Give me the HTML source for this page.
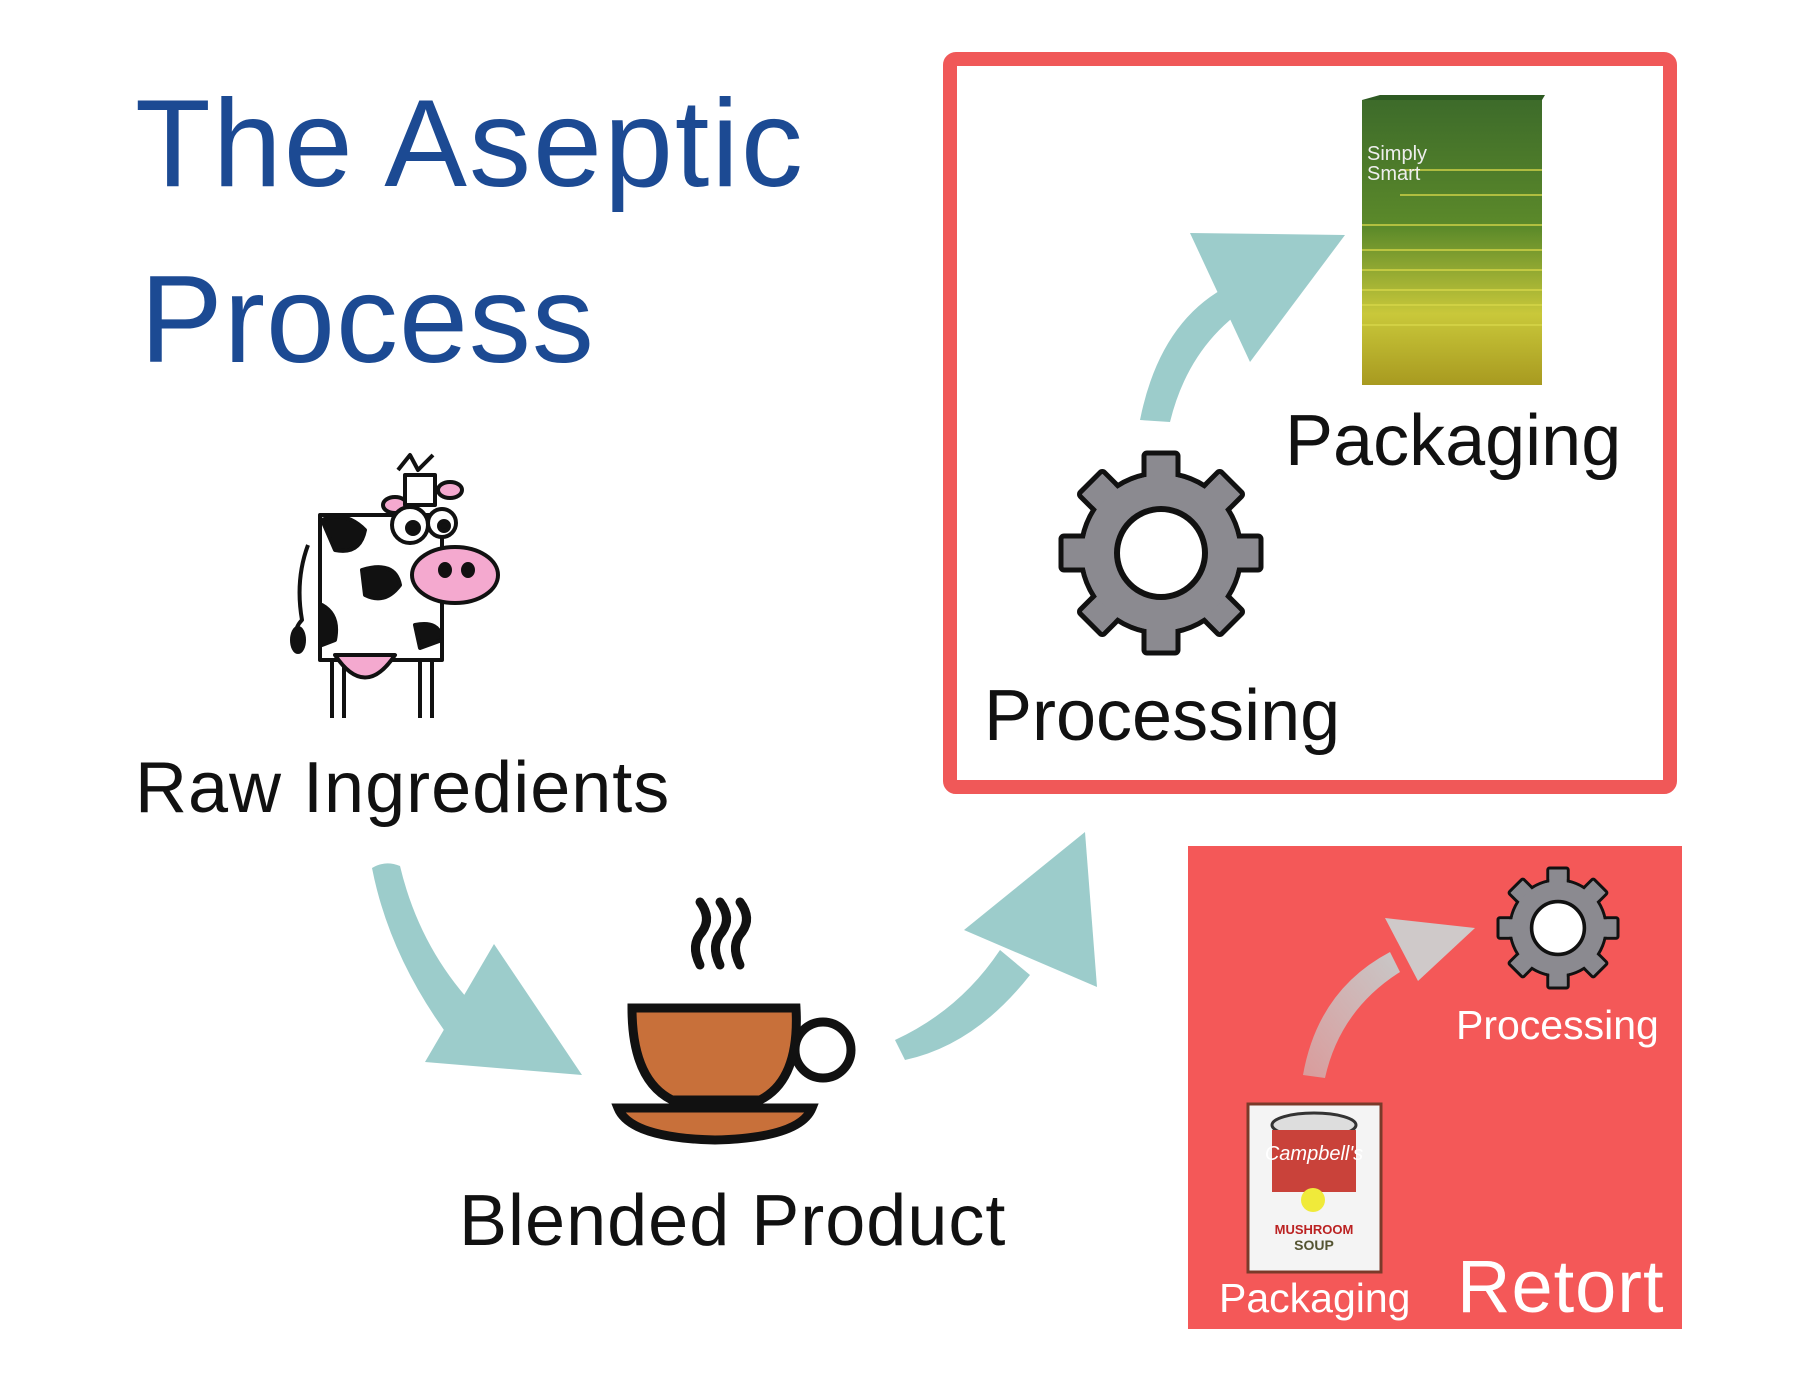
<!DOCTYPE html>
<html><head><meta charset="utf-8"><style>
html,body{margin:0;padding:0;background:#fff;}
svg{display:block;}
text{font-family:"Liberation Sans",sans-serif;}
</style></head><body>
<svg width="1800" height="1391" viewBox="0 0 1800 1391" xmlns="http://www.w3.org/2000/svg">
<defs>
<linearGradient id="carton" x1="0" y1="0" x2="0" y2="1">
<stop offset="0" stop-color="#3d6b2a"/><stop offset="0.45" stop-color="#5c8a2a"/><stop offset="0.75" stop-color="#c9c83a"/><stop offset="1" stop-color="#a89a20"/></linearGradient>
<linearGradient id="ga" x1="0" y1="1" x2="1" y2="0"><stop offset="0" stop-color="#c8c8c8" stop-opacity="0.6"/><stop offset="1" stop-color="#c8c8c8"/></linearGradient>
<g id="gear">
<g fill="#8b8a90" stroke="#111" stroke-width="5">
<rect x="-17" y="-100" width="34" height="200" rx="3"/>
<rect x="-17" y="-100" width="34" height="200" rx="3" transform="rotate(45)"/>
<rect x="-17" y="-100" width="34" height="200" rx="3" transform="rotate(90)"/>
<rect x="-17" y="-100" width="34" height="200" rx="3" transform="rotate(135)"/>
<circle r="80"/>
</g>
<g fill="#8b8a90">
<rect x="-14.5" y="-97" width="29" height="194"/>
<rect x="-14.5" y="-97" width="29" height="194" transform="rotate(45)"/>
<rect x="-14.5" y="-97" width="29" height="194" transform="rotate(90)"/>
<rect x="-14.5" y="-97" width="29" height="194" transform="rotate(135)"/>
<circle r="77.5"/>
</g>
<circle r="44" fill="#fff" stroke="#111" stroke-width="6"/>
</g>
</defs>

<!-- Title -->
<text x="135" y="186" font-size="124" fill="#1c4a93" letter-spacing="2">The Aseptic</text>
<text x="140" y="362" font-size="124" fill="#1c4a93" letter-spacing="1">Process</text>

<!-- Red outline box -->
<rect x="950" y="59" width="720" height="728" rx="6" fill="none" stroke="#f05858" stroke-width="14"/>

<!-- Carton -->
<g>
<rect x="1362" y="100" width="180" height="285" fill="url(#carton)"/>
<polygon points="1362,100 1380,95 1545,95 1542,100" fill="#2e5a22"/>
<g stroke="#d8d84a" stroke-width="2" opacity="0.7">
<line x1="1400" y1="170" x2="1542" y2="170"/><line x1="1400" y1="195" x2="1542" y2="195"/>
<line x1="1362" y1="225" x2="1542" y2="225"/><line x1="1362" y1="250" x2="1542" y2="250"/>
<line x1="1362" y1="270" x2="1542" y2="270"/><line x1="1362" y1="290" x2="1542" y2="290"/>
<line x1="1362" y1="305" x2="1542" y2="305"/><line x1="1362" y1="325" x2="1542" y2="325"/>
</g>
<text x="1367" y="160" font-size="20" fill="#eee" font-family="Liberation Serif,serif">Simply</text>
<text x="1367" y="180" font-size="20" fill="#eee" font-family="Liberation Serif,serif">Smart</text>
</g>

<!-- arrow in box -->
<path d="M1140,420 Q1160,320 1230,285 L1258,300 Q1190,340 1170,422 Z" fill="#9ccccb"/>
<polygon points="1190,233 1345,235 1250,362" fill="#9ccccb"/>

<!-- big gear -->
<use href="#gear" transform="translate(1161,553)"/>

<text x="1285" y="465" font-size="72" fill="#111">Packaging</text>
<text x="984" y="740" font-size="72" fill="#111">Processing</text>

<!-- Cow -->
<g stroke="#111" stroke-width="4" stroke-linejoin="round">
<line x1="332" y1="640" x2="332" y2="718"/><line x1="344" y1="640" x2="344" y2="718"/>
<line x1="420" y1="640" x2="420" y2="718"/><line x1="432" y1="640" x2="432" y2="718"/>
<path d="M308,545 Q295,580 302,620 Q292,630 298,645" fill="none"/>
<ellipse cx="298" cy="640" rx="6" ry="12" fill="#111"/>
<rect x="320" y="515" width="122" height="145" fill="#fff"/>
<path d="M335,655 Q365,700 395,655 Z" fill="#f4a9cf"/>
<path d="M322,520 Q345,510 365,530 Q360,555 335,550 Z" fill="#111"/>
<path d="M362,570 Q395,560 400,585 Q385,605 365,595 Z" fill="#111"/>
<path d="M322,605 Q340,615 335,640 L322,645 Z" fill="#111"/>
<path d="M415,625 Q440,620 442,640 L420,648 Z" fill="#111"/>
<path d="M398,470 L410,455 L418,470 L433,455" fill="none"/>
<ellipse cx="395" cy="505" rx="12" ry="8" fill="#f4a9cf"/>
<ellipse cx="450" cy="490" rx="12" ry="8" fill="#f4a9cf"/>
<rect x="405" y="475" width="30" height="30" fill="#fff"/>
<circle cx="410" cy="525" r="18" fill="#fff"/><circle cx="442" cy="523" r="14" fill="#fff"/>
<circle cx="413" cy="528" r="6" fill="#111"/><circle cx="444" cy="526" r="5" fill="#111"/>
<ellipse cx="455" cy="575" rx="43" ry="28" fill="#f4a9cf"/>
<ellipse cx="445" cy="570" rx="5" ry="6" fill="#111"/><ellipse cx="468" cy="570" rx="5" ry="6" fill="#111"/>
</g>

<text x="135" y="812" font-size="72" fill="#111" letter-spacing="1">Raw Ingredients</text>

<!-- arrow 1 -->
<path d="M372,868 Q385,860 400,866 Q420,950 478,1010 L455,1045 Q390,960 372,868 Z" fill="#9ccccb"/>
<polygon points="425,1062 582,1075 494,944" fill="#9ccccb"/>

<!-- arrow 2 -->
<path d="M895,1040 Q960,1010 1000,950 L1030,975 Q975,1045 905,1060 Z" fill="#9ccccb"/>
<polygon points="964,930 1085,832 1097,987" fill="#9ccccb"/>

<!-- Cup -->
<g stroke="#111" stroke-width="9" fill="none" stroke-linecap="round">
<path d="M700,965 Q690,945 702,932 Q712,918 700,902"/>
<path d="M720,965 Q710,945 722,932 Q732,918 720,902"/>
<path d="M740,965 Q730,945 742,932 Q752,918 740,902"/>
<circle cx="823" cy="1050" r="28"/>
</g>
<path d="M632,1008 L796,1008 Q800,1080 760,1100 L672,1100 Q632,1080 632,1008 Z" fill="#c8703a" stroke="#111" stroke-width="9"/>
<path d="M618,1108 L812,1108 Q800,1138 715,1140 Q630,1138 618,1108 Z" fill="#c8703a" stroke="#111" stroke-width="9"/>

<text x="459" y="1245" font-size="72" fill="#111" letter-spacing="1">Blended Product</text>

<!-- Retort box -->
<rect x="1188" y="846" width="494" height="483" fill="#f45858"/>
<path d="M1303,1075 Q1318,990 1390,952 L1400,972 Q1340,1010 1325,1078 Z" fill="url(#ga)"/>
<polygon points="1385,918 1475,928 1418,981" fill="#cfc9c9"/>
<use href="#gear" transform="translate(1558,928) scale(0.6)"/>
<text x="1456" y="1039" font-size="41" fill="#fff">Processing</text>

<!-- can -->
<rect x="1248" y="1104" width="133" height="168" fill="#f4f4f4" stroke="#7a3a2a" stroke-width="3"/>
<ellipse cx="1314" cy="1125" rx="42" ry="12" fill="#ddd" stroke="#333" stroke-width="3"/>
<rect x="1272" y="1130" width="84" height="62" fill="#c9423a"/>
<circle cx="1313" cy="1200" r="12" fill="#f0ea3a"/>
<text x="1314" y="1160" font-size="20" fill="#fff" text-anchor="middle" font-family="Liberation Serif,serif" font-style="italic">Campbell's</text>
<text x="1314" y="1234" font-size="13" fill="#b22" text-anchor="middle" font-weight="bold">MUSHROOM</text>
<text x="1314" y="1250" font-size="14" fill="#553" text-anchor="middle" font-weight="bold">SOUP</text>

<text x="1219" y="1312" font-size="41" fill="#fff">Packaging</text>
<text x="1457" y="1312" font-size="74" fill="#fff" letter-spacing="1">Retort</text>
</svg>
</body></html>
